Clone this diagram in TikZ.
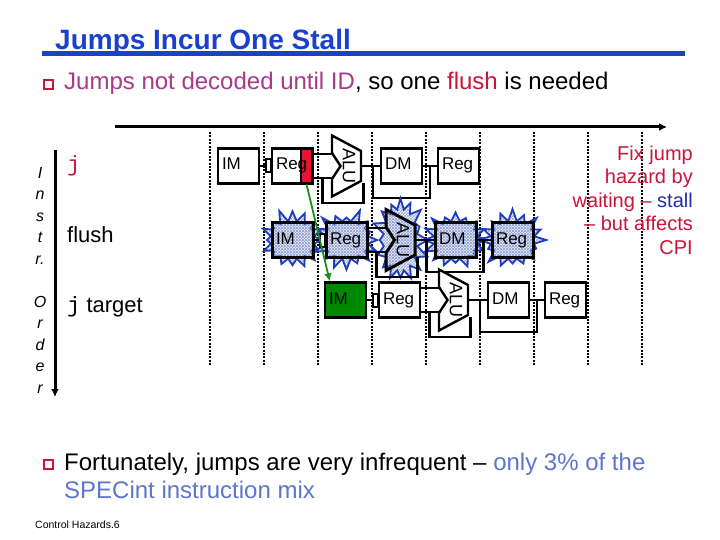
\documentclass[tikz,border=0pt]{standalone}
\usepackage{fontspec}
\setmainfont{Liberation Sans}
\newfontfamily\codefont{Liberation Mono}
\usetikzlibrary{arrows.meta,shapes.symbols,patterns,shadows}
\definecolor{titleblue}{RGB}{28,64,204}
\definecolor{idpink}{RGB}{168,58,140}
\definecolor{flushred}{RGB}{204,20,56}
\definecolor{stallblue}{RGB}{32,48,170}
\definecolor{mixblue}{RGB}{92,118,204}
\definecolor{burstblue}{RGB}{30,60,190}
\definecolor{hatch}{RGB}{150,165,215}
\definecolor{jumpgreen}{RGB}{0,136,0}
\definecolor{arrowgreen}{RGB}{24,144,24}
\definecolor{flagred}{RGB}{232,20,52}
\begin{document}
\begin{tikzpicture}[x=1pt, y=-1pt, >={Latex[length=8pt,width=8pt]},
		stage/.style={draw, line width=2.4pt, fill=white, minimum width=41pt, minimum height=35pt, inner xsep=4pt, inner ysep=2pt, text width=33pt, align=left, text height=16pt, text depth=8pt, font=\fontsize{17}{17}\selectfont},
		flushstage/.style={stage, line width=3pt, pattern=crosshatch, pattern color=hatch},
		preg/.style={draw, line width=2pt, fill=white, minimum width=5pt, minimum height=13pt, inner sep=0pt},
		burst/.style={starburst, draw=burstblue, line width=1.8pt, pattern=crosshatch, pattern color=hatch, starburst points=16, starburst point height=13pt, minimum width=70pt, minimum height=64pt, inner sep=0pt},
		alubox/.style={line width=2.4pt, fill=white},
		alutext/.style={rotate=-90, inner sep=0pt, font=\fontsize{18}{18}\selectfont},
		wire/.style={line width=2.4pt},
		lane/.style={line width=2.2pt, dash pattern=on 2pt off 1.4pt},
		bullet/.style={draw=flushred, line width=1.2pt, fill=white, minimum size=9pt, inner sep=0pt, drop shadow={shadow xshift=1.3pt, shadow yshift=-1.3pt, fill=flushred!75!black, opacity=1}},
		textline/.style={anchor=base west, inner sep=0pt, font=\fontsize{24}{28}\selectfont}]
	\fill[white] (0,0) rectangle (720,540);
	\useasboundingbox (0,0) rectangle (720,540);

	% Heading and first bullet
	\node[anchor=base west, inner sep=0pt, text=titleblue, font=\fontsize{28}{32}\selectfont\bfseries] (title) at (55,50) {Jumps Incur One Stall};
	\draw[titleblue, line width=5pt] (42,54) -- (685,54);
	\node[bullet] (bul1) at (48.5,84.5) {};
	\node[textline] (idline) at (64,90) {\textcolor{idpink}{Jumps not decoded until ID}, so one \textcolor{flushred}{flush} is needed};

	% Time and order axes
	\coordinate (tstart) at (115,127); \coordinate (tend) at (667,127);
	\draw[->, line width=3pt] (tstart) -- (tend);
	\coordinate (ostart) at (55,150); \coordinate (oend) at (55,397);
	\draw[->, line width=3pt] (ostart) -- (oend);
	\node[anchor=north, inner sep=0pt, align=center, font=\fontsize{16}{21.5}\selectfont\itshape] (order) at (40,167) {I\\n\\s\\t\\r.\\[21.5pt]O\\r\\d\\e\\r};
	\node[anchor=base west, inner sep=0pt, text=flushred, font=\codefont\fontsize{22}{22}\selectfont] (jlabel) at (67,172) {j};
	\node[anchor=base west, inner sep=0pt, font=\fontsize{22}{22}\selectfont] (flushlabel) at (67,243) {flush};
	\node[anchor=base west, inner sep=0pt, font=\fontsize{22}{22}\selectfont] (targetlabel) at (67,312) {{\codefont j} target};

	% Clock lanes
	\draw[lane] (210,132) -- (210,365); \draw[lane] (264,132) -- (264,365); \draw[lane] (318,132) -- (318,365);
	\draw[lane] (372,132) -- (372,365); \draw[lane] (426,132) -- (426,365); \draw[lane] (480,132) -- (480,365);
	\draw[lane] (534,132) -- (534,365); \draw[lane] (588,132) -- (588,365); \draw[lane] (642,132) -- (642,365);

	% Define nodes: j
	\node[stage] (im1) at (238.5,166) {IM}; \node[preg] (pr1) at (268,166) {};
	\node[draw, line width=1.6pt, fill=flagred, minimum width=11pt, minimum height=35pt, inner sep=0pt] (flag) at (306.5,166) {};
	\node[stage, fill=none] (rega1) at (292.5,166) {Reg};
	\coordinate (alu1) at (346.5,166);
	\draw[alubox, shift={(alu1)}] (-14.5,-30.5) -- (14.5,-15) -- (14.5,15) -- (-14.5,30.5) -- (-14.5,13) -- (-6,0) -- (-14.5,-13) -- cycle;
	\node[alutext] (alutxt1) at ([xshift=2.5pt]alu1) {ALU};
	\node[stage] (dm1) at (401.5,166) {DM}; \node[stage] (regb1) at (458.5,166) {Reg};

	% Draw edges: j
	\draw[wire] (im1) -- (pr1) -- (rega1);
	\draw[wire] ([yshift=12pt]rega1.east) -- ([xshift=-14.5pt,yshift=12pt]alu1);
	\draw[wire] ([yshift=-12pt]rega1.east) -- ([xshift=-14.5pt,yshift=-12pt]alu1);
	\draw[wire] ([xshift=-24pt,yshift=-12pt]alu1) -- ++(0,25) -- ++(41,0) -- ++(0,-20);
	\draw[wire] ([xshift=14.5pt]alu1) -- (dm1);
	\draw[wire] ([xshift=-7pt]dm1.west) -- ++(0,32) -- ++(57,0) -- ++(0,-32);
	\draw[wire] (dm1) -- (regb1);

	% Define nodes: flush
	\node[burst, random starburst=11] (bim2) at (292.5,240) {};
	\node[burst, random starburst=23] (brega2) at (346.5,240) {};
	\node[burst, random starburst=37, minimum width=60pt, minimum height=88pt] (balu2) at (400.5,240) {};
	\node[burst, random starburst=41] (bdm2) at (455.5,240) {};
	\node[burst, random starburst=53] (bregb2) at (512.5,240) {};
	\node[flushstage] (im2) at (292.5,240) {IM}; \node[preg] (pr2) at (322,240) {};
	\node[flushstage] (rega2) at (346.5,240) {Reg};
	\coordinate (alu2) at (400.5,240);
	\draw[alubox, line width=3pt, pattern=crosshatch, pattern color=hatch, shift={(alu2)}] (-14.5,-30.5) -- (14.5,-15) -- (14.5,15) -- (-14.5,30.5) -- (-14.5,13) -- (-6,0) -- (-14.5,-13) -- cycle;
	\node[alutext] (alutxt2) at ([xshift=2.5pt]alu2) {ALU};
	\node[flushstage] (dm2) at (455.5,240) {DM}; \node[flushstage] (regb2) at (512.5,240) {Reg};

	% Draw edges: flush
	\draw[wire] (im2) -- (pr2) -- (rega2);
	\draw[wire] ([yshift=12pt]rega2.east) -- ([xshift=-14.5pt,yshift=12pt]alu2);
	\draw[wire] ([yshift=-12pt]rega2.east) -- ([xshift=-14.5pt,yshift=-12pt]alu2);
	\draw[wire] ([xshift=-24pt,yshift=-12pt]alu2) -- ++(0,25) -- ++(41,0) -- ++(0,-20);
	\draw[wire] ([xshift=14.5pt]alu2) -- (dm2);
	\draw[wire] ([xshift=-7pt]dm2.west) -- ++(0,32) -- ++(57,0) -- ++(0,-32);
	\draw[wire] (dm2) -- (regb2);

	% Define nodes: j target
	\node[stage, fill=jumpgreen] (im3) at (345.5,300) {IM}; \node[preg] (pr3) at (375,300) {};
	\node[stage] (rega3) at (399.5,300) {Reg};
	\coordinate (alu3) at (453.5,300);
	\draw[alubox, shift={(alu3)}] (-14.5,-30.5) -- (14.5,-15) -- (14.5,15) -- (-14.5,30.5) -- (-14.5,13) -- (-6,0) -- (-14.5,-13) -- cycle;
	\node[alutext] (alutxt3) at ([xshift=2.5pt]alu3) {ALU};
	\node[stage] (dm3) at (508.5,300) {DM}; \node[stage] (regb3) at (565.5,300) {Reg};

	% Draw edges: j target
	\draw[wire] (im3) -- (pr3) -- (rega3);
	\draw[wire] ([yshift=12pt]rega3.east) -- ([xshift=-14.5pt,yshift=12pt]alu3);
	\draw[wire] ([yshift=-12pt]rega3.east) -- ([xshift=-14.5pt,yshift=-12pt]alu3);
	\draw[wire] ([xshift=-24pt,yshift=-12pt]alu3) -- ++(0,25) -- ++(41,0) -- ++(0,-20);
	\draw[wire] ([xshift=14.5pt]alu3) -- (dm3);
	\draw[wire] ([xshift=-7pt]dm3.west) -- ++(0,32) -- ++(57,0) -- ++(0,-32);
	\draw[wire] (dm3) -- (regb3);

	% Jump resolved in ID
	\draw[->, arrowgreen, line width=1.8pt] (flag.south) -- ([xshift=6pt]im3.north west);

	% Side note, second bullet, footer
	\node[anchor=north east, inner sep=0pt, align=right, text=flushred, font=\fontsize{20}{23.5}\selectfont] (fixnote) at (693,145.5) {Fix jump\\hazard by\\waiting -- \textcolor{stallblue}{stall}\\-- but affects\\CPI};
	\node[bullet] (bul2) at (48.5,464.5) {};
	\node[textline] (mixline) at (64,470) {Fortunately, jumps are very infrequent -- \textcolor{mixblue}{only 3\% of the}};
	\node[textline, text=mixblue] (mixline2) at (64,498) {SPECint instruction mix};
	\node[anchor=base west, inner sep=0pt, font=\fontsize{10.5}{12}\selectfont] (footer) at (35,528) {Control Hazards.6};
\end{tikzpicture}
\end{document}
